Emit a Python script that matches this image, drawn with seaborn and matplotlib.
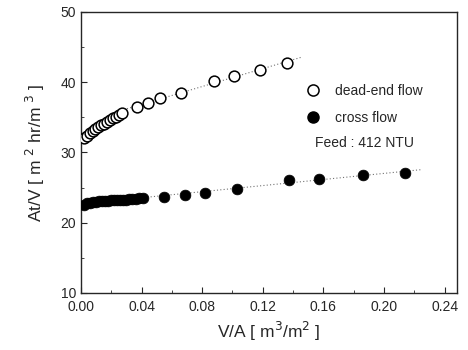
import numpy as np
import pandas as pd
import matplotlib
matplotlib.use("Agg")
import matplotlib.pyplot as plt
from matplotlib.ticker import MultipleLocator, FormatStrFormatter
from matplotlib.lines import Line2D
import seaborn as sns

# dead-end flow (open circles)
dead_x = [0.002, 0.004, 0.006, 0.008, 0.0095, 0.011, 0.013, 0.015, 0.017, 0.019,
          0.021, 0.023, 0.025, 0.027, 0.037, 0.0445, 0.052, 0.066, 0.088, 0.101,
          0.118, 0.136]
dead_y = [32.1, 32.4, 32.7, 33.0, 33.3, 33.6, 33.9, 34.1, 34.4, 34.6,
          34.9, 35.1, 35.3, 35.6, 36.4, 37.1, 37.7, 38.5, 40.1, 40.9,
          41.8, 42.7]

# cross flow (filled circles)
cross_x = [0.002, 0.004, 0.006, 0.008, 0.010, 0.012, 0.014, 0.016, 0.018, 0.020,
           0.022, 0.024, 0.026, 0.028, 0.030, 0.032, 0.034, 0.036, 0.038, 0.041,
           0.055, 0.0686, 0.082, 0.103, 0.137, 0.157, 0.186, 0.214]
cross_y = [22.5, 22.75, 22.85, 22.95, 23.0, 23.05, 23.1, 23.12, 23.15, 23.18,
           23.2, 23.23, 23.26, 23.28, 23.3, 23.33, 23.36, 23.4, 23.45, 23.5,
           23.7, 24.0, 24.2, 24.85, 26.1, 26.2, 26.8, 27.1]

dead_fit_range = [0.024, 0.145]
cross_fit_range = [0.0, 0.224]

sns.set_style("ticks")
plt.rcParams["font.family"] = ["Liberation Sans", "DejaVu Sans"]

fig = plt.figure(figsize=(4.68, 3.5), dpi=100)
ax = fig.add_axes([0.173, 0.163, 0.803, 0.803])

df_dead = pd.DataFrame({"x": dead_x, "y": dead_y})
df_cross = pd.DataFrame({"x": cross_x, "y": cross_y})

# dotted linear fits
big = np.array(dead_x) > 0.03
p = np.polyfit(np.array(dead_x)[big], np.array(dead_y)[big], 1)
xx = np.array(dead_fit_range)
ax.plot(xx, np.polyval(p, xx), ls=(0, (1, 2)), lw=0.8, color="0.45", zorder=1)
p2 = np.polyfit(cross_x, cross_y, 1)
xx = np.array(cross_fit_range)
ax.plot(xx, np.polyval(p2, xx), ls=(0, (1, 2)), lw=0.8, color="0.45", zorder=1)

sns.scatterplot(data=df_dead, x="x", y="y", ax=ax, marker="o", s=60,
                facecolor="white", edgecolor="black", linewidth=1.1, zorder=3)
sns.scatterplot(data=df_cross, x="x", y="y", ax=ax, marker="o", s=60,
                color="black", edgecolor="black", linewidth=0.5, zorder=3)

ax.set_xlim(0, 0.248)
ax.set_ylim(10, 50)
ax.xaxis.set_major_locator(MultipleLocator(0.04))
ax.xaxis.set_minor_locator(MultipleLocator(0.02))
ax.yaxis.set_major_locator(MultipleLocator(10))
ax.yaxis.set_minor_locator(MultipleLocator(5))
ax.xaxis.set_major_formatter(FormatStrFormatter("%.2f"))
ax.tick_params(which="both", direction="in", labelsize=10)
ax.tick_params(which="major", length=4)
ax.tick_params(which="minor", length=2)
ax.tick_params(axis="x", pad=5)
for s in ax.spines.values():
    s.set_linewidth(1.0)

ax.set_xlabel(r"V/A [ m$^3$/m$^2$ ]", fontsize=12.5, labelpad=4)
ax.set_ylabel(r"At/V [ m $^2$ hr/m $^3$ ]", fontsize=12.5, labelpad=10)

handles = [
    Line2D([], [], ls="none", marker="o", markersize=8, markerfacecolor="white",
           markeredgecolor="black", markeredgewidth=1.1),
    Line2D([], [], ls="none", marker="o", markersize=8, markerfacecolor="black",
           markeredgecolor="black"),
]
ax.legend(handles, ["dead-end flow", "cross flow"], loc="upper left",
          bbox_to_anchor=(0.546, 0.787), frameon=False, fontsize=10,
          handletextpad=0.6, labelspacing=0.9)
ax.text(0.622, 0.534, "Feed : 412 NTU", transform=ax.transAxes, fontsize=10,
        va="center")

fig.savefig("out.png", dpi=100)
